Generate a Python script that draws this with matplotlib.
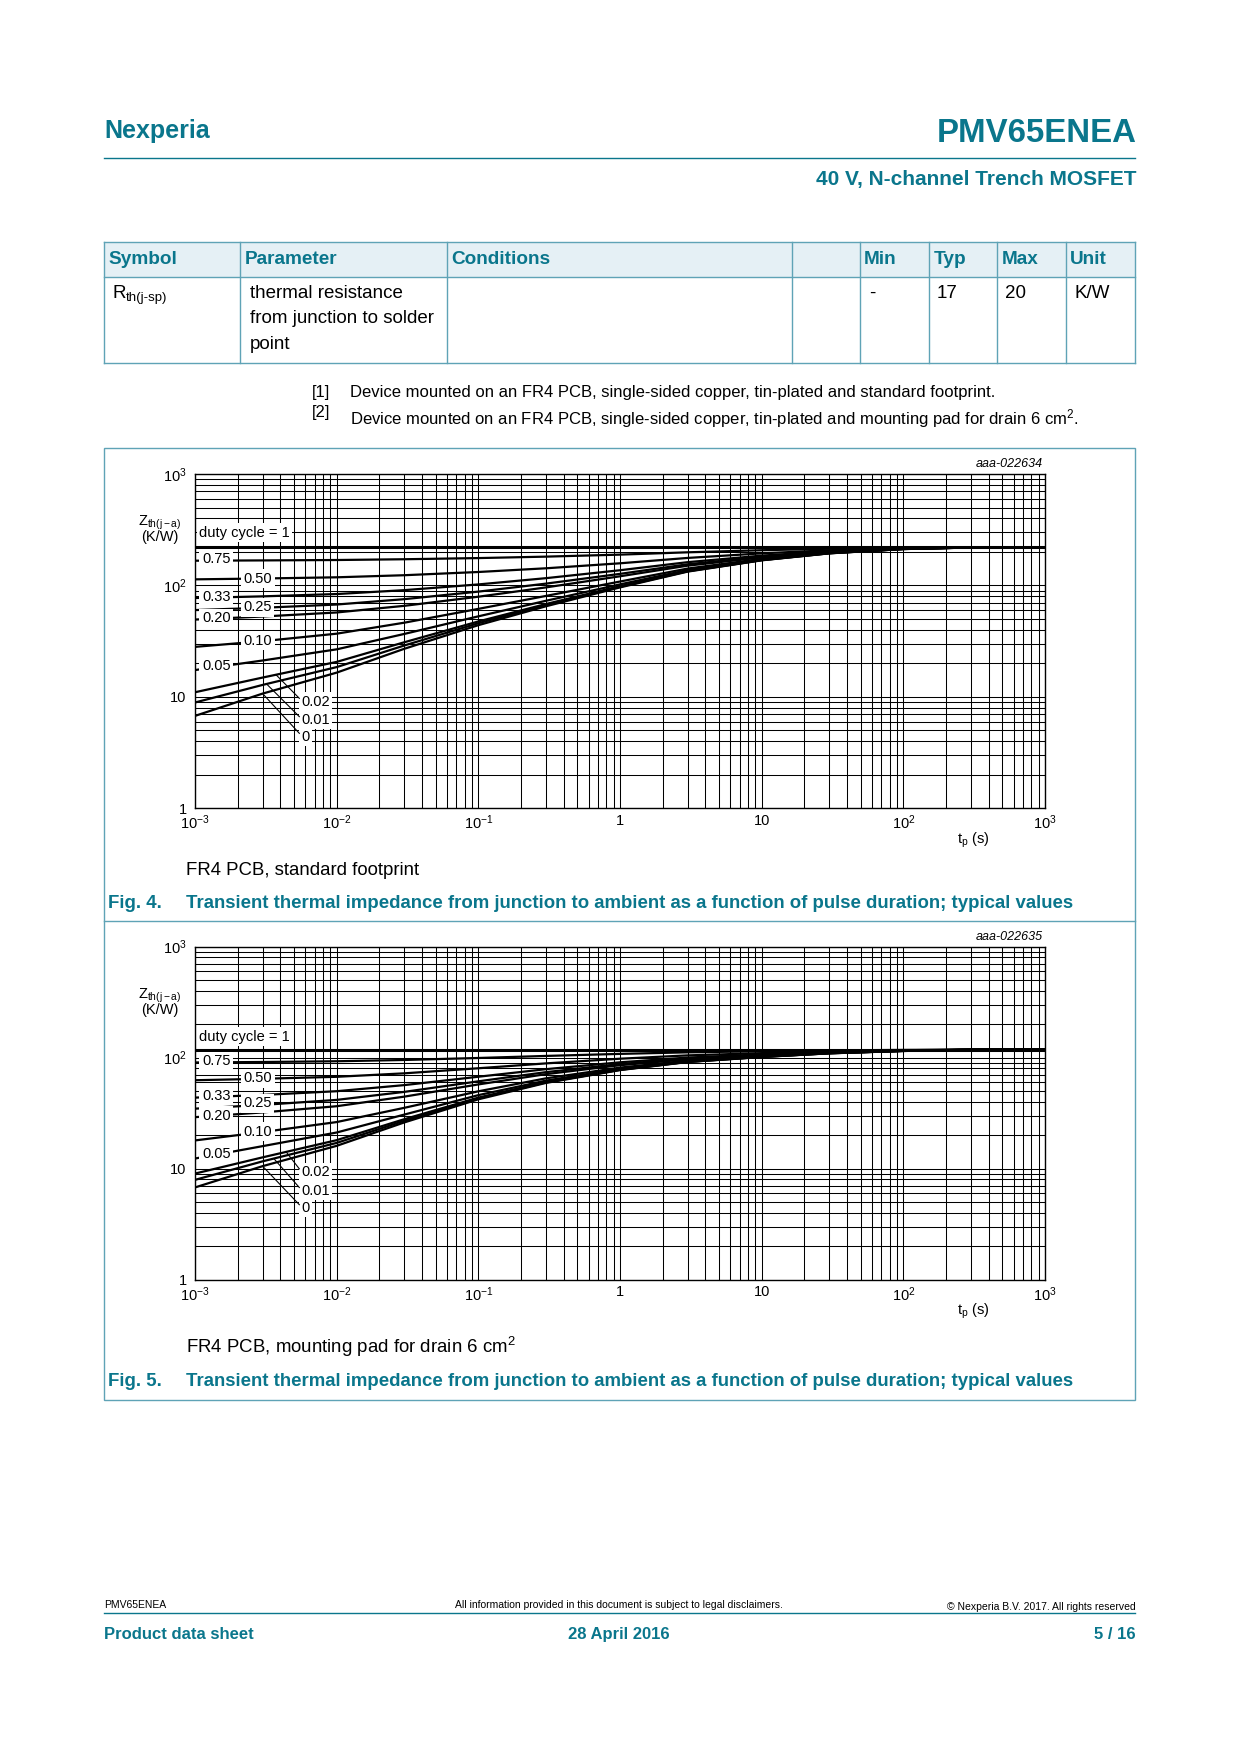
import numpy as np
import matplotlib
matplotlib.use('Agg')
import matplotlib.pyplot as plt
from matplotlib.lines import Line2D
from matplotlib.patches import Rectangle
from matplotlib.ticker import LogLocator, NullFormatter

plt.rcParams['font.family'] = ['Liberation Sans', 'DejaVu Sans']
plt.rcParams['mathtext.fontset'] = 'custom'
plt.rcParams['mathtext.rm'] = 'Liberation Sans'
plt.rcParams['mathtext.it'] = 'Liberation Sans:italic'
plt.rcParams['mathtext.bf'] = 'Liberation Sans:bold'

# ---------------- data ----------------
t_pulse = [1e-3, 3e-3, 1e-2, 3e-2, 1e-1, 3e-1, 1, 3, 10, 30, 100, 300, 1000]
duty_labels = ['1', '0.75', '0.50', '0.33', '0.25', '0.20', '0.10', '0.05', '0.02', '0.01', '0']

# Fig. 4 : FR4 PCB, standard footprint
fig4_d100 = [220, 220, 220, 220, 220, 220, 220, 220, 220, 220, 220, 220, 220]
fig4_d075 = [166.7, 167.7, 169.1, 171.8, 176.0, 181.3, 189.0, 198.3, 207.0, 213.5, 218.0, 219.8, 220]
fig4_d050 = [113.4, 115.4, 118.3, 123.5, 132.0, 142.5, 158.0, 176.5, 194.0, 207.0, 216.0, 219.5, 220]
fig4_d033 = [77.1, 79.8, 83.7, 90.7, 102.1, 116.2, 136.9, 161.7, 185.2, 202.6, 214.6, 219.3, 220]
fig4_d025 = [60.1, 63.0, 67.4, 75.3, 88.0, 103.8, 127.0, 154.8, 181.0, 200.5, 214.0, 219.3, 220]
fig4_d020 = [49.4, 52.6, 57.2, 65.6, 79.2, 96.0, 120.8, 150.4, 178.4, 199.2, 213.6, 219.2, 220]
fig4_d010 = [28.1, 31.6, 36.9, 46.3, 61.6, 80.5, 108.4, 141.7, 173.2, 196.6, 212.8, 219.1, 220]
fig4_d005 = [17.4, 21.2, 26.7, 36.7, 52.8, 72.8, 102.2, 137.4, 170.6, 195.3, 212.4, 219.1, 220]
fig4_d002 = [11.0, 14.9, 20.6, 30.9, 47.5, 68.1, 98.5, 134.7, 169.0, 194.5, 212.2, 219.0, 220]
fig4_d001 = [8.9, 12.8, 18.5, 28.9, 45.8, 66.6, 97.2, 133.9, 168.5, 194.3, 212.1, 219.0, 220]
fig4_d000 = [6.75, 10.7, 16.5, 27.0, 44.0, 65.0, 96.0, 133.0, 168.0, 194.0, 212.0, 219.0, 220]

# Fig. 5 : FR4 PCB, mounting pad for drain 6 cm2
fig5_d100 = [118, 118, 118, 118, 118, 118, 118, 118, 118, 118, 118, 118, 118]
fig5_d075 = [90.2, 91.1, 92.5, 95.0, 99.0, 103.3, 107.8, 111.3, 113.8, 115.8, 117.1, 117.8, 118]
fig5_d050 = [62.4, 64.3, 67.0, 72.0, 80.0, 88.5, 97.5, 104.5, 109.5, 113.5, 116.3, 117.7, 118]
fig5_d033 = [43.5, 46.0, 49.7, 56.4, 67.1, 78.5, 90.5, 99.9, 106.6, 112.0, 115.7, 117.5, 118]
fig5_d025 = [34.6, 37.4, 41.5, 49.0, 61.0, 73.8, 87.3, 97.8, 105.3, 111.3, 115.4, 117.5, 118]
fig5_d020 = [29.0, 32.0, 36.4, 44.4, 57.2, 70.8, 85.2, 96.4, 104.4, 110.8, 115.2, 117.4, 118]
fig5_d010 = [17.9, 21.3, 26.2, 35.2, 49.6, 64.9, 81.1, 93.7, 102.7, 109.9, 114.9, 117.4, 118]
fig5_d005 = [12.3, 15.9, 21.1, 30.6, 45.8, 61.9, 79.1, 92.4, 101.9, 109.5, 114.7, 117.3, 118]
fig5_d002 = [9.0, 12.6, 18.0, 27.8, 43.5, 60.2, 77.8, 91.5, 101.3, 109.2, 114.6, 117.3, 118]
fig5_d001 = [7.9, 11.6, 17.0, 26.9, 42.8, 59.6, 77.4, 91.3, 101.2, 109.1, 114.5, 117.3, 118]
fig5_d000 = [6.75, 10.5, 16.0, 26.0, 42.0, 59.0, 77.0, 91.0, 101.0, 109.0, 114.5, 117.3, 118]

x_tick_vals = [1e-3, 1e-2, 1e-1, 1, 10, 100, 1000]
x_tick_labels = [r'$\mathregular{10^{-3}}$', r'$\mathregular{10^{-2}}$', r'$\mathregular{10^{-1}}$',
                 '1', '10', r'$\mathregular{10^{2}}$', r'$\mathregular{10^{3}}$']
y_tick_vals = [1, 10, 100, 1000]
y_tick_labels = ['1', '10', r'$\mathregular{10^{2}}$', r'$\mathregular{10^{3}}$']

# ---------------- layout ----------------
W, H = 1240, 1754
TEAL = '#0a768c'
LINE_TEAL = '#5fa3b6'
fig = plt.figure(figsize=(W / 100, H / 100), dpi=100)


def T(x, y, s, **kw):
    kw.setdefault('va', 'center')
    return fig.text(x / W, 1 - y / H, s, **kw)


def HL(x0, x1, y, color, lw=1.0):
    fig.add_artist(Line2D([x0 / W, x1 / W], [1 - y / H, 1 - y / H], color=color, lw=lw,
                          transform=fig.transFigure))


def VL(x, y0, y1, color, lw=1.0):
    fig.add_artist(Line2D([x / W, x / W], [1 - y0 / H, 1 - y1 / H], color=color, lw=lw,
                          transform=fig.transFigure))


# header
T(104, 131, 'Nexperia', fontsize=18, weight='bold', color=TEAL, ha='left')
T(1137, 134, 'PMV65ENEA', fontsize=23.8, weight='bold', color=TEAL, ha='right')
HL(104, 1135, 157.6, TEAL, 1.0)
T(1137, 179, '40 V, N-channel Trench MOSFET', fontsize=15, weight='bold', color=TEAL, ha='right')

# table
cols_x = [104, 240.4, 447.2, 791.5, 859.7, 929, 997.3, 1065.5, 1135]
tb_top, tb_mid, tb_bot = 241.5, 277, 363
fig.add_artist(Rectangle((104 / W, 1 - tb_mid / H), (1135 - 104) / W, (tb_mid - tb_top) / H,
                         transform=fig.transFigure, facecolor='#e5f0f5', edgecolor='none'))
for yy in (tb_top, tb_mid, tb_bot):
    HL(104, 1135, yy, LINE_TEAL)
for xx in cols_x:
    VL(xx, tb_top, tb_bot, LINE_TEAL)
headers = ['Symbol', 'Parameter', 'Conditions', '', 'Min', 'Typ', 'Max', 'Unit']
for xx, h in zip(cols_x, headers):
    T(xx + 4.5, 259, h, fontsize=13.7, weight='bold', color=TEAL, ha='left')
T(113, 293, 'R', fontsize=13.5, ha='left')
T(125.5, 298, 'th(j-sp)', fontsize=9.5, ha='left')
for i, s in enumerate(['thermal resistance', 'from junction to solder', 'point']):
    T(249.5, 293 + 25.7 * i, s, fontsize=13.5, ha='left')
T(869, 293, '-', fontsize=13.5, ha='left')
T(937, 293, '17', fontsize=13.5, ha='left')
T(1005, 293, '20', fontsize=13.5, ha='left')
T(1074, 293, 'K/W', fontsize=13.5, ha='left')

# footnotes
T(312, 393, '[1]', fontsize=12, ha='left')
T(350, 393, 'Device mounted on an FR4 PCB, single-sided copper, tin-plated and standard footprint.',
  fontsize=12, ha='left')
T(312, 413, '[2]', fontsize=12, ha='left')
T(350, 419, r'Device mounted on an FR4 PCB, single-sided copper, tin-plated and mounting pad for drain 6 cm$\mathregular{^2}$.',
  fontsize=12, ha='left')

# panel border
fig.add_artist(Rectangle((104 / W, 1 - 1400 / H), (1135 - 104) / W, (1400 - 448.3) / H,
                         transform=fig.transFigure, facecolor='none', edgecolor=LINE_TEAL, lw=1.0))
HL(104, 1135, 921, LINE_TEAL)

# footer
T(104, 1605.5, 'PMV65ENEA', fontsize=7.5, ha='left')
T(619, 1605.5, 'All information provided in this document is subject to legal disclaimers.', fontsize=7.5, ha='center')
T(1136, 1607, '\u00a9 Nexperia B.V. 2017. All rights reserved', fontsize=7.5, ha='right')
HL(104, 1135, 1613, TEAL, 1.0)
T(104, 1634.5, 'Product data sheet', fontsize=12, weight='bold', color=TEAL, ha='left')
T(619, 1634.5, '28 April 2016', fontsize=12, weight='bold', color=TEAL, ha='center')
T(1136, 1634.5, '5 / 16', fontsize=12, weight='bold', color=TEAL, ha='right')


def draw_chart(top_px, bot_px, note_y, cap_y, curves, label_pos, leader_t, code, note, fig_no):
    left_px, right_px = 195, 1045
    ax = fig.add_axes([left_px / W, 1 - bot_px / H, (right_px - left_px) / W, (bot_px - top_px) / H])
    ax.set_xscale('log')
    ax.set_yscale('log')
    ax.set_xlim(1e-3, 1e3)
    ax.set_ylim(1, 1e3)
    for d, z in zip(duty_labels, curves):
        ax.plot(t_pulse, z, color='black', lw=2.2 if d == '1' else 1.6,
                solid_capstyle='butt', zorder=2)
    ax.xaxis.set_minor_locator(LogLocator(base=10, subs=np.arange(2, 10), numticks=30))
    ax.yaxis.set_minor_locator(LogLocator(base=10, subs=np.arange(2, 10), numticks=30))
    ax.xaxis.set_minor_formatter(NullFormatter())
    ax.yaxis.set_minor_formatter(NullFormatter())
    ax.set_xticks(x_tick_vals)
    ax.set_xticklabels(x_tick_labels)
    ax.set_yticks(y_tick_vals)
    ax.set_yticklabels(y_tick_labels)
    ax.grid(True, which='both', color='black', lw=0.75)
    ax.set_axisbelow(True)
    ax.tick_params(which='both', length=0, labelsize=10.5)
    ax.tick_params(axis='x', pad=4)
    ax.tick_params(axis='y', pad=6)
    for sp in ax.spines.values():
        sp.set_linewidth(1.0)
    for lab, (tx, ty) in zip(['duty cycle = 1'] + duty_labels[1:], label_pos):
        ax.text(tx, ty, lab, fontsize=10.5, ha='left', va='center', zorder=5,
                bbox=dict(facecolor='white', edgecolor='none', pad=1.8))
    # leader lines for the three lowest curves
    for k, t0 in zip([8, 9, 10], leader_t):
        z = curves[k]
        y0 = 10 ** np.interp(np.log10(t0), np.log10(t_pulse), np.log10(z))
        ty = label_pos[k][1]
        ax.plot([t0, 5.45e-3], [y0, ty * 1.07], color='black', lw=0.8, zorder=6)
    # texts around
    T(1043, top_px - 10, code, fontsize=9, style='italic', ha='right')
    fig.text(160 / W, 1 - (top_px + 49) / H, r'Z$_{\mathregular{th(j-a)}}$', fontsize=10.5, ha='center', va='center')
    T(160, top_px + 63.5, '(K/W)', fontsize=10.5, ha='center')
    fig.text(973 / W, 1 - (bot_px + 32) / H, r'$\mathregular{t_p}$ (s)', fontsize=10.5, ha='center', va='center')
    T(185.6, note_y, note, fontsize=13.4, ha='left')
    T(108, cap_y, fig_no, fontsize=13.45, weight='bold', color=TEAL, ha='left')
    T(185.6, cap_y, 'Transient thermal impedance from junction to ambient as a function of pulse duration; typical values',
      fontsize=13.45, weight='bold', color=TEAL, ha='left')
    return ax


fig4_curves = [fig4_d100, fig4_d075, fig4_d050, fig4_d033, fig4_d025, fig4_d020,
               fig4_d010, fig4_d005, fig4_d002, fig4_d001, fig4_d000]
fig5_curves = [fig5_d100, fig5_d075, fig5_d050, fig5_d033, fig5_d025, fig5_d020,
               fig5_d010, fig5_d005, fig5_d002, fig5_d001, fig5_d000]

fig4_label_pos = [(1.07e-3, 296), (1.12e-3, 172.6), (2.2e-3, 115), (1.12e-3, 78.7), (2.2e-3, 64),
                  (1.12e-3, 50.5), (2.2e-3, 31.8), (1.12e-3, 19.1), (5.6e-3, 9.07), (5.6e-3, 6.21),
                  (5.6e-3, 4.4)]
fig5_label_pos = [(1.07e-3, 154), (1.12e-3, 92.9), (2.2e-3, 64.9), (1.12e-3, 45.4), (2.2e-3, 38.7),
                  (1.12e-3, 30.0), (2.2e-3, 21.5), (1.12e-3, 13.6), (5.6e-3, 9.28), (5.6e-3, 6.3),
                  (5.6e-3, 4.41)]

draw_chart(474, 808.3, 870.5, 904, fig4_curves, fig4_label_pos, [3.73e-3, 3.2e-3, 3.0e-3], 'aaa-022634',
           'FR4 PCB, standard footprint', 'Fig. 4.')
draw_chart(946.5, 1279.5, 1347, 1381.5, fig5_curves, fig5_label_pos, [4.4e-3, 3.6e-3, 3.0e-3], 'aaa-022635',
           r'FR4 PCB, mounting pad for drain 6 cm$\mathregular{^2}$', 'Fig. 5.')

fig.savefig('out.png', dpi=100, facecolor='white')
